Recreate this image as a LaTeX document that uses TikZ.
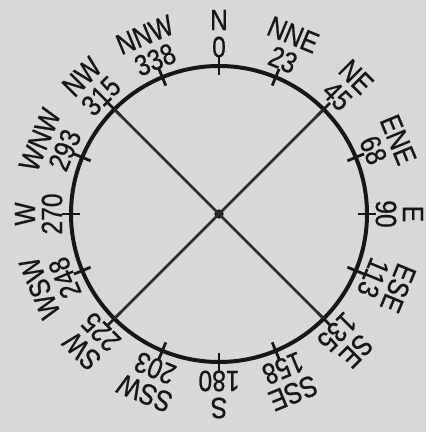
\documentclass[tikz,border=0pt]{standalone}
\usepackage{fontspec}
\setmainfont{Liberation Sans}[FakeStretch=0.84, FakeBold=0.7]
\usepackage{xcolor}
\usetikzlibrary{calc}
\definecolor{paper}{RGB}{216,216,214}
\definecolor{ink}{RGB}{22,22,22}
\definecolor{diagink}{RGB}{45,45,45}

\begin{document}
\begin{tikzpicture}[
  x=0.03cm, y=0.03cm,
  rim/.style     = {draw=ink, line width=3.4pt},
  rimtick/.style = {draw=ink, line width=2.4pt},
  diag/.style    = {draw=diagink, line width=2.3pt},
  deglbl/.style  = {text=ink, inner sep=0pt, font=\fontsize{25}{25}\selectfont},
  ptlbl/.style   = {deglbl}
]

%% ===== page =====
\fill[paper] (-219,-218) rectangle (207,214);
\useasboundingbox (-219,-218) rectangle (207,214);

%% ===== compass ring =====
\node[circle, fill=ink, inner sep=0pt, minimum size=0.28cm] (ctr) at (0,0) {};
\draw[rim] (ctr) circle (148);

\foreach \num/\nm [count=\i from 0] in
  {0/N, 23/NNE, 45/NE, 68/ENE, 90/E, 113/ESE, 135/SE, 158/SSE,
   180/S, 203/SSW, 225/SW, 248/WSW, 270/W, 293/WNW, 315/NW, 338/NNW}
{
  \coordinate (p\i) at ({90-22.5*\i}:148);
  \draw[rimtick] ({90-22.5*\i}:139) -- ({90-22.5*\i}:157);
  \node[deglbl, rotate=-22.5*\i] (deg\i) at ({90-22.5*\i}:167) {\num};
  \node[ptlbl, rotate=-22.5*\i] (pt\i) at ({90-22.5*\i}:194) {\nm};
}

%% ===== diagonals =====
\draw[diag] (p14) -- (p6);
\draw[diag] (p2) -- (p10);

\end{tikzpicture}
\end{document}
